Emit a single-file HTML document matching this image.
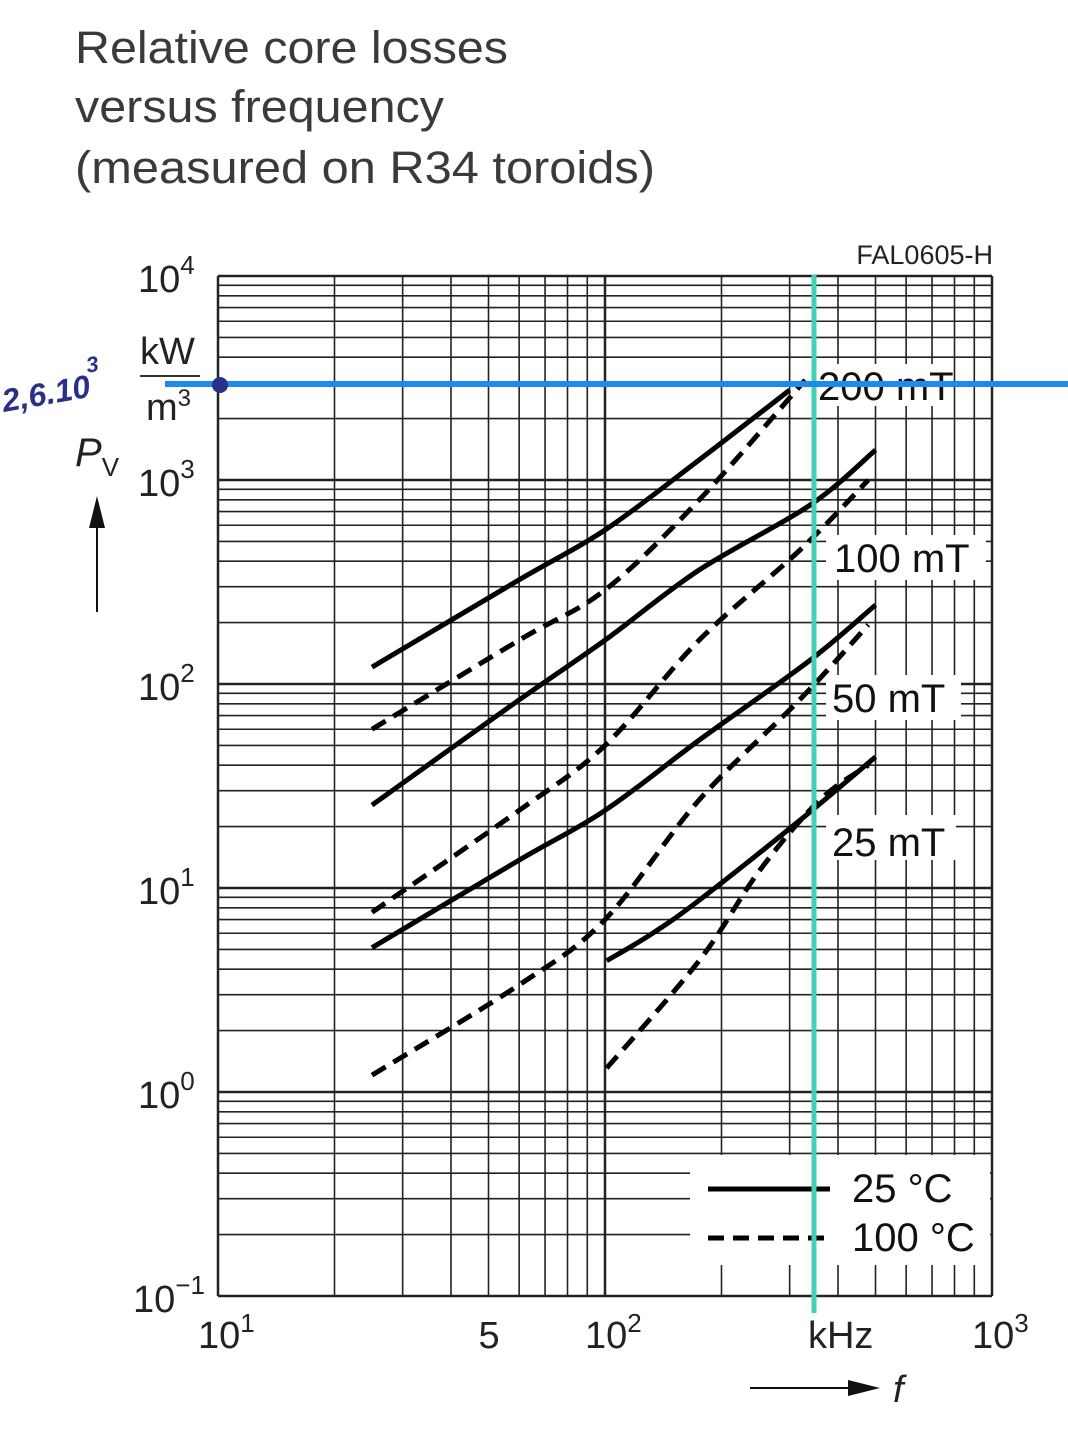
<!DOCTYPE html>
<html><head><meta charset="utf-8"><style>
html,body{margin:0;padding:0;background:#fff;}
body{width:1068px;height:1441px;overflow:hidden;font-family:"Liberation Sans",Arial,sans-serif;}
svg text{font-family:"Liberation Sans",Arial,sans-serif;}
</style></head><body>
<svg id="chart" width="1068" height="1441" viewBox="0 0 1068 1441" xmlns="http://www.w3.org/2000/svg">
<g fill="#3a3a3a" font-size="45">
<text x="75" y="63" textLength="433" lengthAdjust="spacingAndGlyphs">Relative core losses</text>
<text x="75" y="122" textLength="369" lengthAdjust="spacingAndGlyphs">versus frequency</text>
<text x="75" y="183" textLength="580" lengthAdjust="spacingAndGlyphs">(measured on R34 toroids)</text>
</g>
<text x="993" y="264" font-size="27" text-anchor="end" fill="#222">FAL0605-H</text>
<g id="grid"></g>
<g id="curves"></g>
<g id="labels"></g>
<g>
<rect x="690" y="1155" width="300" height="110" fill="#fff"/>
<line x1="708" y1="1189" x2="830" y2="1189" stroke="#000" stroke-width="5"/>
<text x="852" y="1202" font-size="40" fill="#111">25 °C</text>
<line x1="708" y1="1238" x2="830" y2="1238" stroke="#000" stroke-width="5" stroke-dasharray="16,9"/>
<text x="852" y="1251" font-size="40" fill="#111">100 °C</text>
</g>
<g id="xticks" font-size="38" fill="#222"></g>
<g id="yticks" font-size="38" fill="#222"></g>
<g fill="#222">
<text x="140" y="364" font-size="38">kW</text>
<line x1="140" y1="376" x2="200" y2="376" stroke="#333" stroke-width="2"/>
<text x="146" y="420" font-size="38">m<tspan font-size="24" dy="-14">3</tspan></text>
<text x="75" y="466" font-size="40" font-style="italic">P<tspan font-size="26" dy="10" font-style="normal">V</tspan></text>
<line x1="97" y1="612" x2="97" y2="525" stroke="#111" stroke-width="2"/>
<polygon points="97,496 89,528 105,528" fill="#111"/>
</g>
<g fill="#222">
<line x1="750" y1="1388" x2="850" y2="1388" stroke="#111" stroke-width="2"/>
<polygon points="880,1388 848,1380 848,1396" fill="#111"/>
<text x="893" y="1402" font-size="38" font-style="italic">f</text>
</g>
<g>
<line x1="814" y1="275" x2="814" y2="1313" stroke="#3fd2b4" stroke-width="5"/>
<line x1="165" y1="384" x2="1068" y2="384" stroke="#1a8cf0" stroke-width="6"/>
<circle cx="220" cy="385" r="8" fill="#2a2f8a"/>
<text x="4" y="412" font-size="32" fill="#2a2f8a" font-style="italic" font-weight="bold" transform="rotate(-10 4 412)">2,6.10<tspan font-size="22" dy="-24">3</tspan></text>
</g>
</svg>
<script>
// Data
const xTickLabels = ["10", "5", "10", "kHz", "10"];
const xTickValues = [10, 50, 100, 400, 1000];
const xTickExp = ["1", "", "2", "", "3"];
const yTickValues = [4, 3, 2, 1, 0, -1];
const seriesNames = ["200mT-25C","200mT-100C","100mT-25C","100mT-100C","50mT-25C","50mT-100C","25mT-25C","25mT-100C"];
const s200Freq = [25, 60, 100, 175, 300];
const s200Solid = [121, 324, 569, 1253, 2760];
const s200DashFreq = [25, 60, 100, 175, 329];
const s200Dash = [60, 164, 289, 798, 3090];
const s100Freq = [25, 60, 100, 175, 339, 500];
const s100Solid = [25.5, 83.6, 164, 362, 754, 1403];
const s100DashFreq = [25, 60, 100, 175, 319, 479];
const s100Dash = [7.6, 24, 50, 164, 454, 1000];
const s50Freq = [25, 60, 100, 175, 339, 500];
const s50Solid = [5.1, 13.7, 24, 53, 131, 244];
const s50DashFreq = [25, 60, 100, 175, 319, 479];
const s50Dash = [1.21, 3.35, 7, 27, 84, 195];
const s25Freq = [101, 131, 175, 319, 500];
const s25Solid = [4.4, 5.9, 8.7, 21.5, 43.9];
const s25DashFreq = [101, 175, 251, 359, 479];
const s25Dash = [1.31, 4.4, 12.2, 27, 40];
const curveLabels = ["200 mT", "100 mT", "50 mT", "25 mT"];

const X0 = 218, XDEC = 387, Y0 = 276, YDEC = 204;
function xs(f){ return X0 + (Math.log10(f) - 1) * XDEC; }
function ys(p){ return Y0 + (4 - Math.log10(p)) * YDEC; }
const NS = "http://www.w3.org/2000/svg";
function mk(tag, parent, attrs){ const e = document.createElementNS(NS, tag); for (const k in attrs) e.setAttribute(k, attrs[k]); parent.appendChild(e); return e; }

const grid = document.getElementById("grid");
for (let d = 0; d < 2; d++) for (let m = 1; m <= 9; m++) {
  const x = xs(Math.pow(10, d + 1) * m);
  const l = mk("line", grid, {x1: x, x2: x, y1: Y0, y2: Y0 + 5 * YDEC, stroke: "#222", "stroke-width": m === 1 ? 2.5 : 1.6});
  
  
}
const vr = mk("line", grid, {x1: xs(1000), x2: xs(1000), y1: Y0, y2: Y0 + 5 * YDEC, stroke: "#222", "stroke-width": 2.5});


for (let d = -1; d < 4; d++) for (let m = 1; m <= 9; m++) {
  const y = ys(Math.pow(10, d) * m);
  const l = mk("line", grid, {x1: X0, x2: xs(1000), y1: y, y2: y, stroke: "#222", "stroke-width": m === 1 ? 2.5 : 1.6});
  
  
}
const hb = mk("line", grid, {x1: X0, x2: xs(1000), y1: ys(1e4), y2: ys(1e4), stroke: "#222", "stroke-width": 2.5});



const labels = document.getElementById("labels");
const boxes = [[808,364,140,42,"200 mT",818,400],[826,535,160,45,"100 mT",834,572],[826,675,135,45,"50 mT",832,712],[826,815,130,45,"25 mT",832,856]];
boxes.forEach((b, i) => {
  const r = mk("rect", labels, {x: b[0], y: b[1], width: b[2], height: b[3], fill: "#fff"});
  
  
  const t = mk("text", labels, {x: b[5], y: b[6], "font-size": 40, fill: "#111"});
  t.textContent = curveLabels[i];
  
  
});

// smooth path through points (Catmull-Rom)
function smoothPath(p){
  let d = "M" + p[0][0].toFixed(1) + "," + p[0][1].toFixed(1);
  for (let i = 0; i < p.length - 1; i++) {
    const p0 = p[i-1] || p[i], p1 = p[i], p2 = p[i+1], p3 = p[i+2] || p2;
    const c1 = [p1[0] + (p2[0]-p0[0])/6, p1[1] + (p2[1]-p0[1])/6];
    const c2 = [p2[0] - (p3[0]-p1[0])/6, p2[1] - (p3[1]-p1[1])/6];
    d += " C" + c1.map(v=>v.toFixed(1)).join(",") + " " + c2.map(v=>v.toFixed(1)).join(",") + " " + p2[0].toFixed(1) + "," + p2[1].toFixed(1);
  }
  return d;
}
const curves = document.getElementById("curves");
const sets = [[s200Freq,s200Solid,false],[s200DashFreq,s200Dash,true],[s100Freq,s100Solid,false],[s100DashFreq,s100Dash,true],[s50Freq,s50Solid,false],[s50DashFreq,s50Dash,true],[s25Freq,s25Solid,false],[s25DashFreq,s25Dash,true]];
sets.forEach((s, i) => {
  const pts = s[0].map((f, j) => [xs(f), ys(s[1][j])]);
  const p = mk("path", curves, {d: smoothPath(pts), fill: "none", stroke: "#000", "stroke-width": 5, "stroke-linejoin": "round"});
  if (s[2]) p.setAttribute("stroke-dasharray", "16,9");
  
  
});

const xt = document.getElementById("xticks");
xTickValues.forEach((v, i) => {
  const t = mk("text", xt, {x: xs(v) + (xTickExp[i] ? -20 : (xTickLabels[i] === "kHz" ? -30 : -10)), y: 1348});
  t.textContent = xTickLabels[i];
  if (xTickExp[i]) { const sp = mk("tspan", t, {"font-size": 26, dy: -16}); sp.textContent = xTickExp[i]; }
  
  
});
const yt = document.getElementById("yticks");
yTickValues.forEach(v => {
  const t = mk("text", yt, {x: v < 0 ? 133 : 138, y: ys(Math.pow(10, v)) + 16});
  t.textContent = "10";
  const sp = mk("tspan", t, {"font-size": 26, dy: -18}); sp.textContent = String(v).replace("-", "−");
  
  
});
</script>
</body></html>
